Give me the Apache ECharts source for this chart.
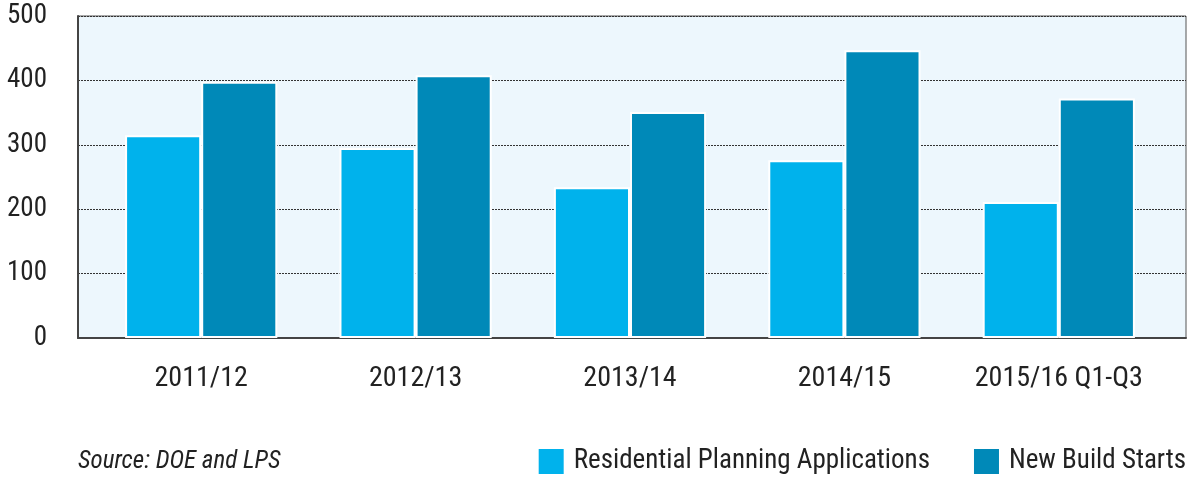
<!DOCTYPE html>
<html><head><meta charset="utf-8">
<script src="https://cdn.jsdelivr.net/npm/echarts@6/dist/echarts.min.js"></script>
<style>html,body{margin:0;padding:0;background:#fff}#c{width:1192px;height:479px}</style>
</head><body><div id="c"></div>
<script>
const categories = ['2011/12','2012/13','2013/14','2014/15','2015/16 Q1-Q3'];
const planning = [315, 295, 234, 276, 211];
const starts = [398, 408, 351, 447, 372];
const yTicks = [0, 100, 200, 300, 400, 500];
const FONT = '"Roboto Condensed", Roboto, sans-serif';
const chart = echarts.init(document.getElementById('c'));
chart.setOption({
  animation: false,
  textStyle: {fontFamily: FONT},
  grid: [
    {left: 78, right: 6, top: 16, bottom: 141, show: true, backgroundColor: '#edf7fd', borderColor: '#555', borderWidth: 1},
    {left: 94, right: 26, top: 16, bottom: 141}
  ],
  legend: {
    right: 6, top: 447, padding: 0, icon: 'rect', itemWidth: 27, itemHeight: 27, itemGap: 42,
    textStyle: {fontFamily: FONT, fontSize: 27, color: '#222', padding: [0, 0, 0, 4]},
    data: ['Residential Planning Applications', 'New Build Starts']
  },
  graphic: [{type: 'text', left: 78, top: 449, style: {text: 'Source: DOE and LPS', font: 'italic 25px ' + FONT, fill: '#222'}}],
  xAxis: [
    {type: 'category', gridIndex: 0, data: categories,
     axisLine: {lineStyle: {color: '#444', width: 2}}, axisTick: {show: false}, axisLabel: {show: false}},
    {type: 'category', gridIndex: 1, data: categories,
     axisLine: {show: false}, axisTick: {show: false},
     axisLabel: {interval: 0, fontSize: 28, color: '#222', margin: 27, fontFamily: FONT}}
  ],
  yAxis: [
    {type: 'value', gridIndex: 0, min: yTicks[0], max: yTicks[yTicks.length-1], interval: 100,
     axisLine: {show: true, lineStyle: {color: '#444', width: 2}}, axisTick: {show: false},
     axisLabel: {fontSize: 27, color: '#222', margin: 31, fontFamily: FONT, padding: [3, 0, 0, 0]},
     splitLine: {lineStyle: {color: '#333', type: [2, 1], width: 1}}},
    {type: 'value', gridIndex: 1, min: yTicks[0], max: yTicks[yTicks.length-1], interval: 100,
     axisLine: {show: false}, axisTick: {show: false}, axisLabel: {show: false}, splitLine: {show: false}}
  ],
  series: [
    {name: 'Residential Planning Applications', type: 'bar', xAxisIndex: 1, yAxisIndex: 1, data: planning,
     barGap: '0%', barCategoryGap: '29%',
     itemStyle: {color: '#00b2ec', borderColor: '#fff', borderWidth: 2}},
    {name: 'New Build Starts', type: 'bar', xAxisIndex: 1, yAxisIndex: 1, data: starts,
     itemStyle: {color: '#0089b8', borderColor: '#fff', borderWidth: 2}}
  ]
});
</script></body></html>
